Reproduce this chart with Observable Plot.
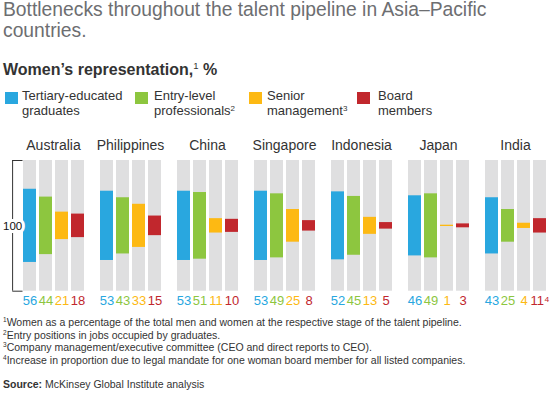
<!DOCTYPE html>
<html><head><meta charset="utf-8">
<script src="https://cdn.jsdelivr.net/npm/d3@7"></script>
<script src="https://cdn.jsdelivr.net/npm/@observablehq/plot@0.6"></script>
<style>
body{margin:0;background:#fff;font-family:"Liberation Sans",Arial,Helvetica,sans-serif;}
#wrap{position:relative;width:552px;height:395px;overflow:hidden;background:#fff;}
.title{position:absolute;left:3px;top:-1px;font-size:19.3px;line-height:21px;color:#6d6e71;width:549px;white-space:nowrap;}
.sub{position:absolute;left:3px;top:60px;font-size:16px;line-height:19px;font-weight:bold;color:#333;}
.sub sup{font-size:9.5px;font-weight:normal;vertical-align:6px;line-height:0;}
.sw{position:absolute;top:92px;width:13px;height:12px;}
.lt{position:absolute;top:88px;font-size:13px;line-height:15px;color:#333;}
.lt sup{font-size:8px;vertical-align:4px;line-height:0;}
#chart{position:absolute;left:0;top:130px;}
.notes{position:absolute;left:3px;top:316px;font-size:10.5px;line-height:12.5px;color:#333;}
.notes sup{font-size:6.5px;vertical-align:4px;line-height:0;}
.src{position:absolute;left:3px;top:378px;font-size:10.5px;line-height:12.5px;color:#333;}
</style></head>
<body>
<div id="wrap">
  <div class="title">Bottlenecks throughout the talent pipeline in Asia–Pacific<br>countries.</div>
  <div class="sub">Women’s representation,<sup>1</sup> %</div>
  <div id="legend"></div>
  <div id="chart"></div>
  <div class="notes">
    <sup>1</sup>Women as a percentage of the total men and women at the respective stage of the talent pipeline.<br>
    <sup>2</sup>Entry positions in jobs occupied by graduates.<br>
    <sup>3</sup>Company management/executive committee (CEO and direct reports to CEO).<br>
    <sup>4</sup>Increase in proportion due to legal mandate for one woman board member for all listed companies.
  </div>
  <div class="src"><b>Source:</b> McKinsey Global Institute analysis</div>
</div>
<script>
const countries = ["Australia", "Philippines", "China", "Singapore", "Indonesia", "Japan", "India"];
const stages = ["Tertiary-educated graduates", "Entry-level professionals", "Senior management", "Board members"];
const legendLabels = ["Tertiary-educated<br>graduates", "Entry-level<br>professionals<sup>2</sup>", "Senior<br>management<sup>3</sup>", "Board<br>members"];
const tertiary = [56, 53, 53, 53, 52, 46, 43];
const entryLevel = [44, 43, 51, 49, 45, 49, 25];
const seniorMgmt = [21, 33, 11, 25, 13, 1, 4];
const boardMembers = [18, 15, 10, 8, 5, 3, 11];
const boardNotes = ["", "", "", "", "", "", "⁴"];
const colors = ["#29a7df", "#8dc63f", "#fdb913", "#c1272d"];
const bracketLabel = "100";

const series = [tertiary, entryLevel, seniorMgmt, boardMembers];
const rows = countries.flatMap((c, i) => stages.map((s, j) => ({
  country: c, stage: s, value: series[j][i],
  label: String(series[j][i]) + (j === 3 ? boardNotes[i] : "")
})));

// legend
const legendSwatchX = [5, 135, 249, 357];
const legendTextX = [22, 154, 267, 378];
const lg = document.getElementById("legend");
stages.forEach((s, i) => {
  const sw = document.createElement("div");
  sw.className = "sw"; sw.style.left = legendSwatchX[i] + "px"; sw.style.background = colors[i];
  lg.appendChild(sw);
  const t = document.createElement("div");
  t.className = "lt"; t.style.left = legendTextX[i] + "px"; t.innerHTML = legendLabels[i];
  lg.appendChild(t);
});

const first = [{country: countries[0], stage: stages[0]}];
const bracketEnds = [0, 100].map(y => ({country: countries[0], stage: stages[0], y}));

const chart = Plot.plot({
  width: 552, height: 180,
  marginTop: 30, marginBottom: 19.3, marginLeft: 20, marginRight: 4.5,
  style: {fontFamily: "'Liberation Sans', Arial, sans-serif", background: "transparent"},
  fx: {domain: countries, paddingInner: 0.169, paddingOuter: 0, axis: null},
  x: {domain: stages, paddingInner: 0.2, paddingOuter: 0, axis: null},
  y: {domain: [0, 100], axis: null},
  color: {domain: stages, range: colors},
  marks: [
    Plot.barY(rows, {fx: "country", x: "stage", y1: 0, y2: 100, fill: "#dfdfe0"}),
    Plot.barY(rows, {fx: "country", x: "stage", y1: d => 50 - d.value / 2, y2: d => 50 + d.value / 2, fill: "stage"}),
    Plot.text(rows, {fx: "country", x: "stage", text: "label", fill: "stage", frameAnchor: "bottom", lineAnchor: "middle", dy: 10, fontSize: 13}),
    Plot.text(countries, {fx: d => d, text: d => d, frameAnchor: "top", lineAnchor: "middle", dy: -14.5, fontSize: 14, fill: "#333"}),
    Plot.ruleX(first, {fx: "country", x: "stage", y1: 0, y2: 100, dx: -17.4, stroke: "#333", strokeWidth: 1}),
    Plot.tickY(bracketEnds, {fx: "country", x: "stage", y: "y", dx: -10.7, insetRight: 2.8, stroke: "#333", strokeWidth: 1}),
    Plot.text(first, {fx: "country", x: "stage", y: () => 50, text: () => bracketLabel, dx: -17.4, fontSize: 11.5, fill: "#111", stroke: "white", strokeWidth: 6})
  ]
});
document.getElementById("chart").appendChild(chart);
</script>
</body></html>
